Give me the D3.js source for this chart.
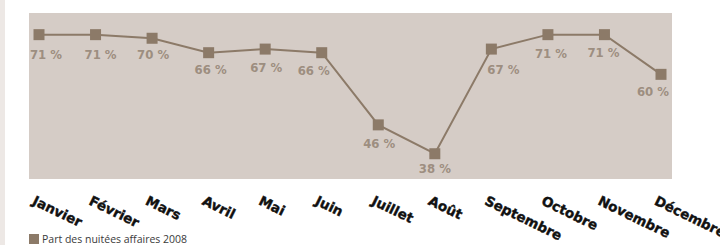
<!DOCTYPE html>
<html>
<head>
<meta charset="utf-8">
<script src="https://cdn.jsdelivr.net/npm/d3@7"></script>
<style>
  html, body { margin: 0; padding: 0; background: #ffffff; }
  svg { display: block; }
</style>
</head>
<body>
<div id="chart"></div>
<script>
const months = ['Janvier', 'Février', 'Mars', 'Avril', 'Mai', 'Juin',
  'Juillet', 'Août', 'Septembre', 'Octobre', 'Novembre', 'Décembre'];
const shareValues = [71, 71, 70, 66, 67, 66, 46, 38, 67, 71, 71, 60];
const seriesName = 'Part des nuitées affaires 2008';

// hand placement of value labels, as in the original layout
const labelNudgeX = [7, 5, 1, 2, 1, -8, 1, 0, 12, 3, -1, -8];
const labelNudgeY = [24, 24, 21, 21, 23, 22, 23, 19, 25, 23, 22, 22];

const width = 720;
const height = 245;
const plot = { left: 29, right: 672, top: 13, bottom: 179 };
const markerColor = '#8c7a68';
const labelColor = '#9d8e80';

const svg = d3.select('#chart').append('svg')
  .attr('width', width)
  .attr('height', height);

// light strip on the left edge
svg.append('rect')
  .attr('x', 0).attr('y', 0)
  .attr('width', 5).attr('height', height)
  .attr('fill', '#ede8e5');

svg.append('rect')
  .attr('x', plot.left)
  .attr('y', plot.top)
  .attr('width', plot.right - plot.left)
  .attr('height', plot.bottom - plot.top)
  .attr('fill', '#d5ccc6');

const x = d3.scalePoint()
  .domain(months)
  .range([39, 661]);

const y = d3.scaleLinear()
  .domain([31, 77])
  .range([plot.bottom, plot.top]);

const data = months.map((m, i) => ({ month: m, value: shareValues[i], i: i }));

svg.append('path')
  .datum(data)
  .attr('fill', 'none')
  .attr('stroke', markerColor)
  .attr('stroke-width', 2)
  .attr('d', d3.line()
    .x(d => x(d.month))
    .y(d => y(d.value)));

svg.selectAll('.marker')
  .data(data)
  .enter()
  .append('rect')
  .attr('class', 'marker')
  .attr('x', d => x(d.month) - 5.5)
  .attr('y', d => y(d.value) - 5.5)
  .attr('width', 11)
  .attr('height', 11)
  .attr('fill', markerColor);

svg.selectAll('.value-label')
  .data(data)
  .enter()
  .append('text')
  .attr('class', 'value-label')
  .attr('x', d => x(d.month) + labelNudgeX[d.i])
  .attr('y', d => y(d.value) + labelNudgeY[d.i])
  .attr('text-anchor', 'middle')
  .attr('font-family', '"DejaVu Sans Condensed", "DejaVu Sans", sans-serif')
  .attr('font-stretch', 'condensed')
  .attr('font-weight', 700)
  .attr('font-size', '13px')
  .attr('fill', labelColor)
  .text(d => d.value + ' %');

// month axis, rotated labels, no lines
const axis = svg.append('g')
  .attr('transform', 'translate(0,' + plot.bottom + ')')
  .call(d3.axisBottom(x).tickSize(0).tickPadding(0));
axis.select('.domain').remove();
axis.selectAll('text')
  .attr('font-family', '"DejaVu Sans", sans-serif')
  .attr('font-weight', 700)
  .attr('font-size', '13.5px')
  .attr('fill', '#111111')
  .attr('stroke', '#111111')
  .attr('stroke-width', 0.4)
  .attr('text-anchor', 'start')
  .attr('dy', 0)
  .attr('y', 0)
  .attr('transform', 'translate(-8,25) rotate(26)');

// legend
svg.append('rect')
  .attr('x', 29)
  .attr('y', 234)
  .attr('width', 10)
  .attr('height', 10)
  .attr('fill', markerColor);

svg.append('text')
  .attr('x', 42)
  .attr('y', 243)
  .attr('font-family', '"Open Sans", sans-serif')
  .attr('font-size', '10.5px')
  .attr('fill', '#3a3a3a')
  .text(seriesName);
</script>
</body>
</html>
